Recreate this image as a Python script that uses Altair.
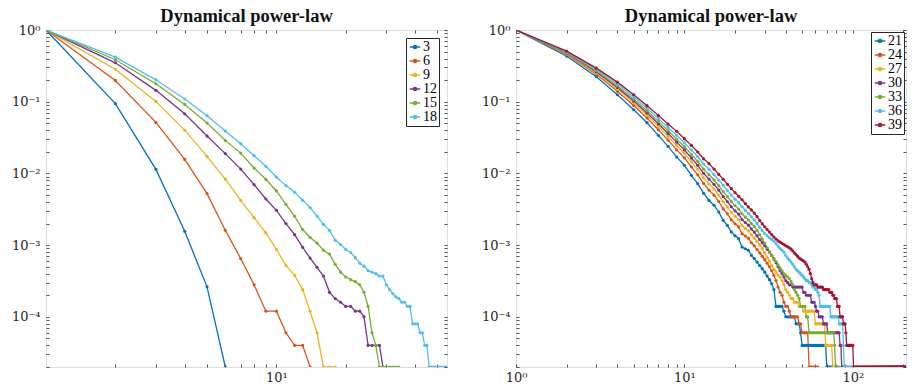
import altair as alt
import pandas as pd

FLOOR = 2e-5
COLORS_L = ["#0072BD", "#D95319", "#EDB120", "#7E2F8E", "#77AC30", "#4DBEEE"]
COLORS_R = ["#0072BD", "#D95319", "#EDB120", "#7E2F8E", "#77AC30", "#4DBEEE", "#A2142F"]

# ---------------- left panel data (x = 1, 2, 3, ...) ----------------
left_labels = ["3", "6", "9", "12", "15", "18"]
s3 = [1, 0.094, 0.0114, 0.00156, 2.62e-4]
s3_runs = [(6, 6, 2e-5)]
s6 = [1, 0.198, 0.0515, 0.0157, 0.00523, 0.00161, 6.5e-4, 2.8e-4, 1.2e-4, 1.2e-4,
      6e-5, 4e-5, 4e-5]
s6_runs = [(14, 14, 2e-5)]
s9 = [1, 0.284, 0.101, 0.0402, 0.0173, 0.00835, 0.00422, 0.00242, 0.00148, 8.7e-4,
      5.2e-4, 3.8e-4, 2.4e-4, 1.2e-4, 6e-5]
s9_runs = [(16, 18, 2e-5)]
s12 = [1, 0.349, 0.144, 0.068, 0.0332, 0.0189, 0.0115, 0.00698, 0.0044, 0.00306,
       0.002, 0.0014, 9.3e-4, 6.6e-4, 4.9e-4, 3.7e-4, 2.2e-4, 1.8e-4, 1.6e-4, 1.4e-4,
       1.4e-4, 1.2e-4, 1.2e-4, 1e-4, 4e-5, 4e-5, 4e-5, 4e-5]
s12_runs = [(29, 29, 2e-5)]
s15 = [1, 0.385, 0.178, 0.0917, 0.0504, 0.0289, 0.0192, 0.0119, 0.00828, 0.0057,
       0.00371, 0.00253, 0.00165, 0.00128, 0.00107, 8.5e-4, 7.5e-4, 5.4e-4, 4.2e-4, 3.6e-4,
       3.3e-4, 3.1e-4, 2.8e-4, 2.2e-4, 1.4e-4, 6e-5, 4e-5]
s15_runs = [(28, 34, 2e-5)]
s18 = [1, 0.418, 0.202, 0.109, 0.0638, 0.039, 0.026, 0.0177, 0.0126, 0.0089,
       0.00676, 0.00546, 0.00422, 0.00334, 0.00255, 0.00195, 0.00161, 0.00117, 0.00102, 8.7e-4,
       7.9e-4, 6.7e-4, 5.6e-4, 5.1e-4, 4.4e-4, 4.2e-4, 4.0e-4, 3.7e-4, 3.7e-4, 2.8e-4,
       2.4e-4, 2.1e-4, 1.9e-4, 1.8e-4, 1.6e-4, 1.6e-4, 1.4e-4, 1.4e-4, 8e-5, 8e-5,
       8e-5, 6e-5, 6e-5, 4e-5, 4e-5]
s18_runs = [(46, 55, 2e-5)]

# ---------------- right panel data (x = 1, 2, 3, ...) ----------------
right_labels = ["21", "24", "27", "30", "33", "36", "39"]
r21 = [1, 0.431, 0.223, 0.125, 0.0773, 0.051, 0.034, 0.0238, 0.0169, 0.0130,
       0.0094, 0.0072, 0.0053, 0.0042, 0.0036, 0.0029, 0.00222, 0.00189, 0.00153, 0.00135,
       0.00123, 0.00094, 0.00089, 0.00085, 0.00072, 0.00065, 0.00058, 0.00052, 0.00047, 0.00042,
       0.00037, 0.00033, 0.00029, 0.00024]
r21_runs = [(35, 38, 1.4e-4), (39, 39, 1.2e-4), (40, 45, 1e-4), (46, 48, 8e-5),
            (49, 49, 6e-5), (50, 69, 4e-5), (70, 76, 2e-5)]
r24 = [1, 0.452, 0.241, 0.140, 0.0885, 0.0593, 0.0406, 0.0291, 0.0213, 0.0165,
       0.01233, 0.00957, 0.00721, 0.00585, 0.00498, 0.00406, 0.00321, 0.00273, 0.00226, 0.00199,
       0.0018, 0.00144, 0.00134, 0.00125, 0.00108, 0.00098, 0.00087, 0.00078, 0.0007, 0.00063,
       0.00056, 0.0005, 0.00044, 0.00038, 0.00032, 0.00026, 0.00022, 0.0002]
r24_runs = [(39, 39, 1.6e-4), (40, 41, 1.4e-4), (42, 42, 1.2e-4), (43, 47, 1e-4),
            (48, 49, 8e-5), (50, 54, 6e-5), (55, 62, 2e-5)]
r27 = [1, 0.464, 0.252, 0.150, 0.0959, 0.0652, 0.0453, 0.0329, 0.0245, 0.0191,
       0.01452, 0.01138, 0.00871, 0.00715, 0.00607, 0.00499, 0.00402, 0.00341, 0.00286, 0.00252,
       0.00227, 0.00186, 0.00171, 0.00158, 0.00139, 0.00125, 0.00112, 0.001, 0.0009, 0.00078,
       0.00068, 0.0006, 0.00052, 0.00046, 0.00042, 0.00038, 0.00036, 0.00032, 0.00028, 0.00024,
       0.00022, 0.0002]
r27_runs = [(43, 44, 1.8e-4), (45, 47, 1.6e-4), (48, 50, 1.4e-4), (51, 59, 1.2e-4),
            (60, 68, 8e-5), (69, 75, 4e-5), (76, 80, 2e-5)]
r30 = [1, 0.474, 0.262, 0.158, 0.1021, 0.0698, 0.0492, 0.0361, 0.0273, 0.0213,
       0.01644, 0.01297, 0.01005, 0.00834, 0.00705, 0.00585, 0.00476, 0.00406, 0.00343, 0.00301,
       0.00271, 0.00227, 0.00207, 0.0019, 0.00168, 0.00152, 0.00135, 0.0012, 0.00108, 0.00098,
       0.00088, 0.0008, 0.00072, 0.00064, 0.00057, 0.0005, 0.00044, 0.0004, 0.00036, 0.00032,
       0.0003, 0.00028, 0.00028]
r30_runs = [(44, 50, 2.6e-4), (51, 52, 2.2e-4), (53, 56, 2e-4), (57, 59, 1.6e-4),
            (60, 60, 1.4e-4), (61, 62, 1.2e-4), (63, 66, 1e-4), (67, 70, 8e-5),
            (71, 83, 6e-5), (84, 85, 4e-5), (86, 88, 2e-5)]
r33 = [1, 0.483, 0.270, 0.166, 0.1082, 0.0746, 0.0532, 0.0394, 0.0301, 0.0236,
       0.01845, 0.01466, 0.01148, 0.00962, 0.0081, 0.00675, 0.00558, 0.00474, 0.00405, 0.00356,
       0.00319, 0.00273, 0.00246, 0.00224, 0.002, 0.00181, 0.00161, 0.0014, 0.00122, 0.00106,
       0.00092, 0.0008, 0.00072, 0.00065, 0.00059, 0.00053, 0.00048, 0.00044, 0.0004, 0.00038,
       0.00036, 0.00034, 0.00031, 0.00028, 0.00024, 0.00022, 0.0002, 0.00018]
r33_runs = [(49, 52, 1.4e-4), (53, 54, 1e-4), (55, 77, 6e-5), (78, 78, 4e-5), (79, 83, 2e-5)]
r36 = [1, 0.495, 0.282, 0.1766, 0.1164, 0.081, 0.0585, 0.0438, 0.0341, 0.0268,
       0.0213, 0.0171, 0.01355, 0.01148, 0.00964, 0.00809, 0.00681, 0.00578, 0.00499, 0.00438,
       0.00391, 0.00343, 0.00305, 0.00276, 0.00249, 0.00225, 0.00201, 0.00177, 0.0016, 0.00145,
       0.00135, 0.00127, 0.0012, 0.00114, 0.00105, 0.00097, 0.0009, 0.00085, 0.0008, 0.00072,
       0.00066, 0.00062, 0.00058, 0.00054, 0.0005, 0.00046, 0.00044, 0.00042, 0.0004, 0.00038,
       0.00036, 0.00034, 0.00032, 0.00032, 0.0003, 0.0003, 0.00028, 0.00026, 0.00026, 0.00024,
       0.00024, 0.00022, 0.0002]
r36_runs = [(64, 73, 1.4e-4), (74, 82, 1e-4), (83, 87, 8e-5), (88, 88, 4e-5), (89, 99, 2e-5)]
r39 = [1, 0.507, 0.294, 0.1875, 0.125, 0.088, 0.0645, 0.0488, 0.0386, 0.0305,
       0.0246, 0.0199, 0.016, 0.0137, 0.0115, 0.0097, 0.0083, 0.00705, 0.00614, 0.0054,
       0.0048, 0.0043, 0.0038, 0.0034, 0.0031, 0.0028, 0.0025, 0.0022, 0.00198, 0.0018,
       0.00165, 0.00152, 0.0014, 0.0013, 0.00122, 0.00115, 0.0011, 0.00106, 0.00102, 0.00098,
       0.00095, 0.00092, 0.00088, 0.00083, 0.00078, 0.00074, 0.0007, 0.00066, 0.00064, 0.00062,
       0.0006, 0.00058, 0.00054, 0.0005, 0.00046, 0.0004, 0.00034, 0.0003]
r39_runs = [(59, 61, 2.8e-4), (62, 66, 2.6e-4), (67, 72, 2.4e-4), (73, 75, 2.2e-4),
            (76, 77, 2e-4), (78, 80, 1.8e-4), (81, 83, 1.4e-4), (84, 87, 1e-4),
            (88, 90, 8e-5), (91, 91, 6e-5), (92, 100, 4e-5), (101, 207, 2e-5)]


def build(labels, heads, runs):
    rows = []
    for lab, head, rr in zip(labels, heads, runs):
        for i, v in enumerate(head):
            rows.append({"series": lab, "x": i + 1, "y": v})
        for a, b, v in rr:
            for xx in range(a, b + 1):
                rows.append({"series": lab, "x": xx, "y": v})
    return pd.DataFrame(rows)


df_left = build(left_labels, [s3, s6, s9, s12, s15, s18],
                [s3_runs, s6_runs, s9_runs, s12_runs, s15_runs, s18_runs])
df_right = build(right_labels, [r21, r24, r27, r30, r33, r36, r39],
                 [r21_runs, r24_runs, r27_runs, r30_runs, r33_runs, r36_runs, r39_runs])

# ---------------- axes ----------------
FONT = "Liberation Serif"
LABEL_FONT = "DejaVu Serif"
INK = "#262626"
Y_DOMAIN = [FLOOR, 1]
y_major = [1, 0.1, 0.01, 0.001, 0.0001]
y_ticks = y_major + [k * d for d in [0.1, 0.01, 0.001, 0.0001, 0.00001] for k in range(2, 10)]
y_expr = ("datum.value == 1 ? '10⁰' : datum.value == 0.1 ? '10⁻¹' : "
          "datum.value == 0.01 ? '10⁻²' : datum.value == 0.001 ? '10⁻³' : "
          "datum.value == 0.0001 ? '10⁻⁴' : ''")
x_expr = "datum.value == 1 ? '10⁰' : datum.value == 10 ? '10¹' : datum.value == 100 ? '10²' : ''"

LEFT_XMAX, RIGHT_XMAX = 55, 207
x_ticks_left = [k * d for d in [1, 10] for k in range(1, 10) if 1 < k * d < LEFT_XMAX]
x_ticks_right = [k * d for d in [1, 10, 100] for k in range(1, 10) if k * d < RIGHT_XMAX]

TICK = 3
SYMBOL = "M-1,0H1M-0.3,0A0.3,0.3,0,1,0,0.3,0A0.3,0.3,0,1,0,-0.3,0Z"


def axis(orient, values, expr, show_labels, pad):
    kw = dict(orient=orient, values=values, tickSize=TICK, offset=-TICK, domain=False,
              grid=False, title=None, tickColor=INK, tickWidth=0.8,
              labelOverlap=False, labelFlush=False)
    if show_labels:
        kw.update(labels=True, labelExpr=expr, labelFont=LABEL_FONT, labelFontSize=13,
                  labelColor=INK, labelPadding=pad)
    else:
        kw.update(labels=False)
    return alt.Axis(**kw)


def panel(df, labels, colors, xmax, xticks, width, legend_offset):
    xs = alt.Scale(type="log", domain=[1, xmax], nice=False)
    ys = alt.Scale(type="log", domain=Y_DOMAIN, nice=False)
    color = alt.Color(
        "series:N",
        scale=alt.Scale(domain=labels, range=colors),
        legend=alt.Legend(title=None, orient="top-right", offset=legend_offset, strokeColor=INK,
                          fillColor="white", padding=2, labelFont=FONT, labelFontSize=14,
                          labelColor="black", symbolType=SYMBOL, symbolSize=110,
                          symbolStrokeWidth=1.4, rowPadding=-3, labelOffset=1,
                          cornerRadius=0),
    )
    lines = alt.Chart(df).mark_line(
        strokeWidth=1.3, clip=True, point=alt.OverlayMarkDef(filled=True, size=10, clip=True)
    ).encode(
        x=alt.X("x:Q", scale=xs, axis=axis("bottom", xticks, x_expr, True, 4)),
        y=alt.Y("y:Q", scale=ys, axis=axis("left", y_ticks, y_expr, True, 6)),
        color=color,
    )
    frame = alt.Chart(df).mark_point(opacity=0, clip=True).encode(
        x=alt.X("x:Q", scale=xs, axis=axis("top", xticks, x_expr, False, 0)),
        y=alt.Y("y:Q", scale=ys, axis=axis("right", y_ticks, y_expr, False, 0)),
    )
    return alt.layer(lines, frame).resolve_axis(x="independent", y="independent").properties(
        width=width, height=337,
        title=alt.TitleParams("Dynamical power-law", font=FONT, fontSize=18.5,
                              fontWeight="bold", color="#111111", offset=-1),
    )


left = panel(df_left, left_labels, COLORS_L, LEFT_XMAX, x_ticks_left, 401, 8)
right = panel(df_right, right_labels, COLORS_R, RIGHT_XMAX, x_ticks_right, 390, 2)

chart = alt.hconcat(left, right, spacing=69, bounds="flush").resolve_scale(
    color="independent"
).properties(
    padding={"left": 2, "top": -2, "right": 0, "bottom": 0}
).configure_view(stroke=INK, strokeWidth=1.2).configure(background="white")

chart.save("out.html", embed_options={"renderer": "svg", "actions": False})
